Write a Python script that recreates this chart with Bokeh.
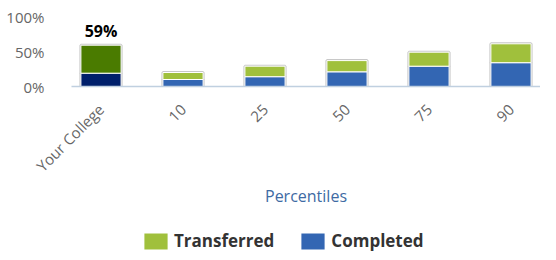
import math
from bokeh.plotting import figure
from bokeh.layouts import column
from bokeh.models import (ColumnDataSource, FactorRange, FixedTicker, PrintfTickFormatter,
                          Legend, LegendItem, LabelSet, Range1d)
from bokeh.core.properties import value
from bokeh.embed import file_html
from bokeh.resources import INLINE

categories = ["Your College", "10", "25", "50", "75", "90"]
completed = [19, 10, 14, 21, 29, 34]
transferred = [40, 10, 15, 16, 20, 27]
completed_colors = ["#001F6B", "#3366B3", "#3366B3", "#3366B3", "#3366B3", "#3366B3"]
transferred_colors = ["#4A7B00", "#A0C03C", "#A0C03C", "#A0C03C", "#A0C03C", "#A0C03C"]
series_names = ["Transferred", "Completed"]
series_colors = ["#A0C03C", "#3366B3"]
label_cats = ["Your College"]
label_vals = [59]
label_text = ["59%"]

FONT = "Open Sans"

src = ColumnDataSource(dict(cat=categories, Completed=completed, Transferred=transferred,
                            cc=completed_colors, tc=transferred_colors))

p = figure(x_range=FactorRange(*categories, range_padding=-0.0467), y_range=(0, 100),
           width=540, height=210, output_backend="svg", toolbar_location=None,
           min_border_left=71, min_border_right=0, min_border_top=16, min_border_bottom=124)
p.outline_line_color = None
p.background_fill_color = "white"
p.border_fill_color = "white"
p.xgrid.grid_line_color = None
p.ygrid.grid_line_color = None

# grey outline layer
p.vbar_stack(["Completed", "Transferred"], x="cat", width=0.49, source=src,
             fill_color=None, line_color="#c8c8c8", line_width=3)
p.vbar_stack(["Completed", "Transferred"], x="cat", width=0.49, source=src,
             fill_color=["cc", "tc"], line_color="white", line_width=1)

lsrc = ColumnDataSource(dict(cat=label_cats, y=label_vals, t=label_text))
p.add_layout(LabelSet(x="cat", y="y", text="t", source=lsrc, y_offset=3,
                      text_align="center", text_baseline="bottom",
                      text_font=value(FONT), text_font_style="bold", text_font_size="16px",
                      text_color="black"))

ya = p.yaxis[0]
ya.ticker = FixedTicker(ticks=[0, 50, 100])
ya.formatter = PrintfTickFormatter(format="%d%%")
ya.axis_line_color = None
ya.major_tick_line_color = None
ya.minor_tick_line_color = None
ya.major_tick_out = 0
ya.major_label_standoff = 27
ya.major_label_text_font = FONT
ya.major_label_text_font_size = "15px"
ya.major_label_text_color = "#666666"

xa = p.xaxis[0]
xa.axis_line_color = "#C0D0E0"
xa.axis_line_width = 1.5
xa.major_tick_line_color = None
xa.minor_tick_line_color = None
xa.major_label_orientation = math.pi / 4
xa.major_label_standoff = 14
xa.major_label_text_font = FONT
xa.major_label_text_font_size = "15px"
xa.major_label_text_color = "#666666"
xa.axis_label = "Percentiles"
xa.axis_label_text_font = FONT
xa.axis_label_text_font_size = "16px"
xa.axis_label_text_font_style = "normal"
xa.axis_label_text_color = "#3E6AA3"
xa.axis_label_standoff = -1

# legend strip: its bar renderers are hidden, only the legend entries are drawn
p2 = figure(width=540, height=42, output_backend="svg", toolbar_location=None,
            x_range=FactorRange(*categories), y_range=Range1d(0, 100),
            x_axis_type=None, y_axis_type=None, min_border=0)
p2.outline_line_color = None
p2.xgrid.grid_line_color = None
p2.ygrid.grid_line_color = None
items = []
for name, col in zip(series_names, series_colors):
    r = p2.vbar(x="cat", top=name, width=0.5, source=src, fill_color=col, line_color=None,
                visible=False)
    items.append(LegendItem(label=name, renderers=[r]))
legend = Legend(items=items, location=(70, 0), orientation="horizontal",
                glyph_width=29, glyph_height=20, label_standoff=4, spacing=24,
                padding=0, margin=0, border_line_color=None, background_fill_alpha=0,
                inactive_fill_alpha=0,
                label_text_font=FONT, label_text_font_style="bold",
                label_text_font_size="17px", label_text_color="#333333",
                label_height=16)
p2.add_layout(legend, "center")

layout = column(p, p2, spacing=0)
open("out.html", "w").write(file_html(layout, INLINE))
